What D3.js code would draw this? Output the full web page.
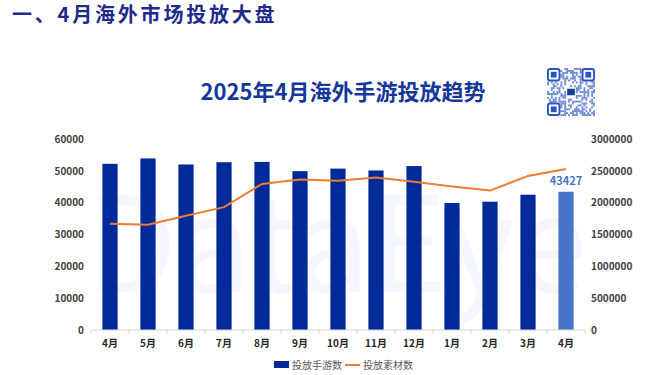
<!DOCTYPE html>
<html lang="zh">
<head>
<meta charset="UTF-8">
<title>2025年4月海外手游投放趋势</title>
<script src="https://d3js.org/d3.v7.min.js"></script>
<style>
  body { margin: 0; background: #fff; }
  text { font-family: "Noto Sans CJK SC", "Noto Sans", sans-serif; }
</style>
</head>
<body>
<svg width="646" height="375" id="mainsvg"></svg>
<script>
// 数据
const months = ['4月', '5月', '6月', '7月', '8月', '9月', '10月', '11月', '12月', '1月', '2月', '3月', '4月 '];
const gameCounts = [52200, 53900, 52000, 52700, 52800, 49900, 50700, 50100, 51500, 39900, 40300, 42500, 43427];
const materialCounts = [1670000, 1655000, 1795000, 1930000, 2295000, 2365000, 2345000, 2395000, 2330000, 2255000, 2190000, 2420000, 2530000];
const leftTicks = [0, 10000, 20000, 30000, 40000, 50000, 60000];
const rightTicks = [0, 500000, 1000000, 1500000, 2000000, 2500000, 3000000];

const svg = d3.select('#mainsvg');
const margin = { top: 139, right: 61, bottom: 45, left: 91 };
const innerWidth = 646 - margin.left - margin.right;
const innerHeight = 375 - margin.top - margin.bottom;

// 顶部标题
svg.append('text')
    .attr('x', 12).attr('y', 22)
    .attr('font-size', 20).attr('font-weight', 'bold')
    .attr('letter-spacing', 2.8)
    .attr('fill', '#1f2a8a')
    .text('一、4月海外市场投放大盘');

svg.append('text')
    .attr('x', 343).attr('y', 100)
    .attr('text-anchor', 'middle')
    .attr('font-size', 22).attr('font-weight', 'bold')
    .attr('fill', '#15379a')
    .text('2025年4月海外手游投放趋势');

// 水印
svg.append('text')
    .attr('x', 86).attr('y', 292)
    .attr('font-size', 132)
    .attr('font-family', '"Noto Sans", sans-serif')
    .attr('fill', '#f4f7fd')
    .text('DataEye');

// 二维码 (装饰)
const qr = svg.append('g').attr('transform', 'translate(547,68)');
let seed = 7;
const nextBit = () => { seed = (seed * 1103515245 + 12345) % 2147483648; return (seed >> 16) & 1; };
const cell = 48 / 25;
for (let r = 0; r < 25; r++) {
    for (let c = 0; c < 25; c++) {
        const finder = (r < 7 && c < 7) || (r < 7 && c > 17) || (r > 17 && c < 7);
        if (finder || (r > 9 && r < 15 && c > 9 && c < 15)) continue;
        if (nextBit()) {
            qr.append('rect').attr('x', c * cell).attr('y', r * cell)
                .attr('width', cell).attr('height', cell).attr('fill', '#3b63c4').attr('opacity', 0.75);
        }
    }
}
[[0, 0], [18, 0], [0, 18]].forEach(([c, r]) => {
    qr.append('rect').attr('x', c * cell + cell / 2).attr('y', r * cell + cell / 2)
        .attr('width', cell * 6).attr('height', cell * 6).attr('rx', 2)
        .attr('fill', 'none').attr('stroke', '#2a55c0').attr('stroke-width', cell);
    qr.append('rect').attr('x', (c + 2) * cell).attr('y', (r + 2) * cell)
        .attr('width', cell * 3).attr('height', cell * 3).attr('fill', '#2a55c0');
});
qr.append('rect').attr('x', 10.5 * cell).attr('y', 10.8 * cell)
    .attr('width', cell * 4).attr('height', cell * 3.4).attr('fill', '#1c3d9e');

const g = svg.append('g').attr('transform', `translate(${margin.left},${margin.top})`);

// 比例尺
const xScale = d3.scaleBand().domain(months).range([0, innerWidth]).paddingInner(0.6).paddingOuter(0.3);
const yLeft = d3.scaleLinear().domain([0, 60000]).range([innerHeight, 0]);
const yRight = d3.scaleLinear().domain([0, 3000000]).range([innerHeight, 0]);

// 左轴
const leftAxis = g.append('g')
    .call(d3.axisLeft(yLeft).tickValues(leftTicks).tickFormat(d3.format('d')).tickSize(0).tickPadding(7));
leftAxis.select('.domain').remove();
leftAxis.selectAll('text').attr('font-size', 10).attr('fill', '#404040').attr('font-weight', 'bold')
    .style('font-family', '"Noto Sans CJK SC", sans-serif');

// 右轴
const rightAxis = g.append('g')
    .attr('transform', `translate(${innerWidth},0)`)
    .call(d3.axisRight(yRight).tickValues(rightTicks).tickFormat(d3.format('d')).tickSize(0).tickPadding(6));
rightAxis.select('.domain').remove();
rightAxis.selectAll('text').attr('font-size', 10).attr('fill', '#404040').attr('font-weight', 'bold')
    .style('font-family', '"Noto Sans CJK SC", sans-serif');

// 柱子
g.selectAll('rect.bar')
    .data(gameCounts)
    .enter()
    .append('rect')
    .attr('class', 'bar')
    .attr('x', (d, i) => xScale(months[i]))
    .attr('y', d => yLeft(d))
    .attr('width', xScale.bandwidth())
    .attr('height', d => innerHeight - yLeft(d))
    .attr('fill', (d, i) => i === months.length - 1 ? '#4674c8' : '#00299a');

// 底部 x 轴
const step = xScale.step();
const xAxisG = g.append('g').attr('transform', `translate(0,${innerHeight})`);
xAxisG.append('line').attr('x1', 0).attr('x2', innerWidth).attr('stroke', '#d9d9d9');
xAxisG.selectAll('line.tk')
    .data(d3.range(months.length + 1))
    .enter().append('line')
    .attr('class', 'tk')
    .attr('x1', i => i * step).attr('x2', i => i * step)
    .attr('y1', 0).attr('y2', 4)
    .attr('stroke', '#d9d9d9');
xAxisG.selectAll('text')
    .data(months)
    .enter().append('text')
    .attr('x', d => xScale(d) + xScale.bandwidth() / 2)
    .attr('y', 17)
    .attr('text-anchor', 'middle')
    .attr('font-size', 10).attr('font-weight', 'bold').attr('fill', '#262626')
    .text(d => d.trim());

// 折线
const line = d3.line()
    .x((d, i) => xScale(months[i]) + xScale.bandwidth() / 2)
    .y(d => yRight(d));
g.append('path')
    .datum(materialCounts)
    .attr('d', line)
    .attr('fill', 'none')
    .attr('stroke', '#ed7d31')
    .attr('stroke-width', 2);

// 数据标签
const last = months.length - 1;
g.append('text')
    .attr('x', xScale(months[last]) + xScale.bandwidth() / 2)
    .attr('y', yLeft(gameCounts[last]) - 7)
    .attr('text-anchor', 'middle')
    .attr('font-size', 11).attr('font-weight', 'bold').attr('fill', '#4674c8')
    .text(gameCounts[last]);

// 图例
const legend = svg.append('g').attr('transform', 'translate(274,365)');
legend.append('rect').attr('x', 0).attr('y', -4).attr('width', 15).attr('height', 7).attr('fill', '#00299a');
legend.append('text').attr('x', 18).attr('y', 4).attr('font-size', 10).attr('fill', '#595959').text('投放手游数');
legend.append('line').attr('x1', 71).attr('x2', 86).attr('y1', 0).attr('y2', 0).attr('stroke', '#ed7d31').attr('stroke-width', 2);
legend.append('text').attr('x', 89).attr('y', 4).attr('font-size', 10).attr('fill', '#595959').text('投放素材数');
</script>
</body>
</html>
